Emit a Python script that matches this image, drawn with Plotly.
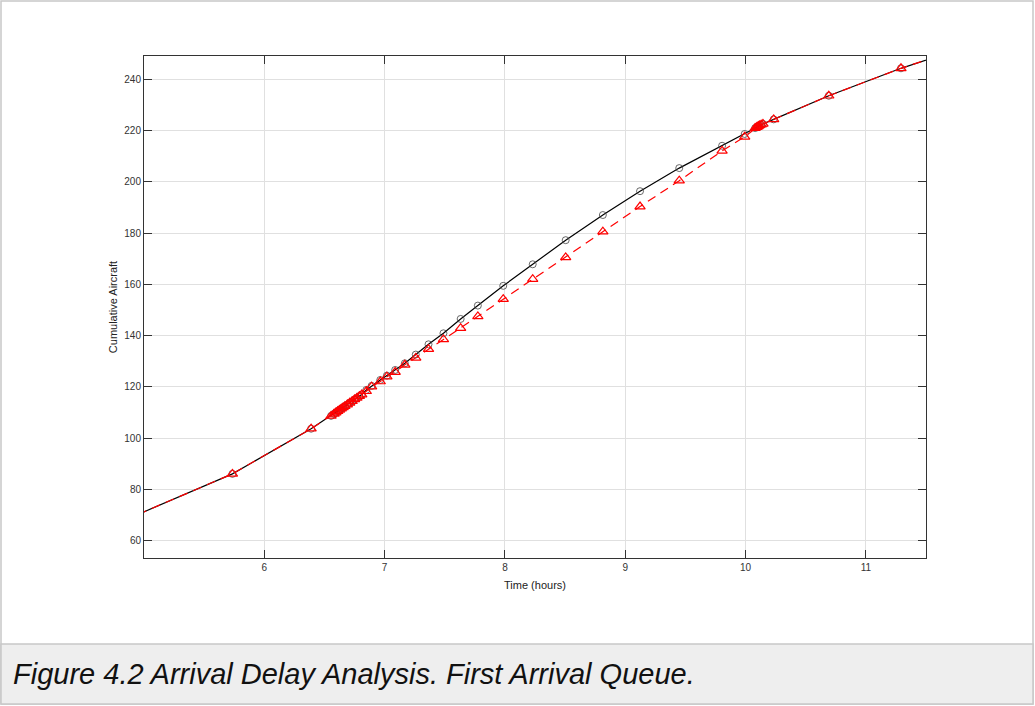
import plotly.graph_objects as go

# Time (hours) of each arrival event
time_h = [4.95, 5.735, 6.389, 6.555,
          6.58, 6.595, 6.61, 6.625, 6.64, 6.655, 6.67, 6.69, 6.71, 6.73, 6.75, 6.77, 6.79, 6.81,
          6.848, 6.892, 6.964, 7.019, 7.088, 7.168, 7.259, 7.365, 7.489, 7.632, 7.775,
          7.986, 8.231, 8.505, 8.814, 9.123, 9.449, 9.805, 9.993,
          10.08, 10.095, 10.105, 10.115, 10.13, 10.145,
          10.234, 10.692, 11.292, 11.55]

# Cumulative aircraft - scheduled (black, circles)
sched = [70.3, 86.1, 103.7, 108.7,
         109.5, 110.0, 110.5, 111.0, 111.5, 112.0, 112.5, 113.1, 113.8, 114.4, 115.1, 115.7, 116.4, 117.0,
         118.8, 120.4, 122.7, 124.4, 126.6, 129.2, 132.6, 136.6, 140.9, 146.5, 151.7,
         159.4, 167.8, 177.2, 187.0, 196.3, 205.3, 214.0, 218.6,
         220.9, 221.3, 221.6, 221.9, 222.2, 222.5,
         224.3, 233.5, 244.2, 248.2]

# Cumulative aircraft - actual (red dashed, triangles)
actual = [70.3, 86.1, 103.7, 108.7,
          109.5, 110.0, 110.5, 111.0, 111.5, 112.0, 112.5, 113.1, 113.8, 114.4, 115.1, 115.7, 116.4, 117.0,
          118.3, 120.1, 122.1, 124.0, 125.8, 128.6, 131.3, 134.7, 138.5, 142.9, 147.5,
          154.2, 162.0, 170.5, 180.5, 190.3, 200.4, 212.0, 217.5,
          220.9, 221.3, 221.6, 221.9, 222.2, 222.5,
          224.3, 233.5, 244.2, 248.2]

x_ticks = [6, 7, 8, 9, 10, 11]
y_ticks = [60, 80, 100, 120, 140, 160, 180, 200, 220, 240]
caption = "Figure 4.2 Arrival Delay Analysis. First Arrival Queue."

FONT = "Liberation Sans, Arial, sans-serif"

fig = go.Figure()
fig.add_trace(go.Scatter(
    x=time_h, y=sched, mode="lines+markers",
    line=dict(color="black", width=1.2),
    marker=dict(symbol="circle-open", size=7, color="#444444", line=dict(width=0.8)),
    showlegend=False))
fig.add_trace(go.Scatter(
    x=time_h, y=actual, mode="lines+markers",
    line=dict(color="#ff0000", width=1.2, dash="9px,6px"),
    marker=dict(symbol="triangle-up-open", size=9, color="#ff0000", line=dict(width=1.2)),
    showlegend=False))

W, H = 1035, 706
L, R, T, B = 144, 926, 56, 558
pw, ph = R - L, B - T

def px(xp):
    return (xp - L) / pw

def py(yp):
    return (B - yp) / ph

axis_common = dict(
    showgrid=True, gridcolor="#e0e0e0", gridwidth=1,
    showline=True, linecolor="#333333", linewidth=1, mirror="ticks",
    ticks="inside", ticklen=8, tickcolor="#333333", tickwidth=1,
    zeroline=False,
    tickfont=dict(family=FONT, size=10, color="#333333"),
)

fig.update_layout(
    width=W, height=H,
    margin=dict(l=L, r=W - R, t=T, b=H - B),
    paper_bgcolor="white", plot_bgcolor="white",
    xaxis=dict(range=[5.0, 11.5], tickvals=x_ticks,
               title=dict(text="Time (hours)", standoff=9,
                          font=dict(family=FONT, size=11, color="#222222")),
               **axis_common),
    yaxis=dict(range=[53.3, 249.0], tickvals=y_ticks,
               title=dict(text="Cumulative Aircraft", standoff=4,
                          font=dict(family=FONT, size=11, color="#222222")),
               **axis_common),
    shapes=[
        dict(type="rect", xref="paper", yref="paper",
             x0=px(1), x1=px(1033), y0=py(704), y1=py(1),
             line=dict(color="#c8c8c8", width=1.5), fillcolor="rgba(0,0,0,0)", layer="below"),
        dict(type="rect", xref="paper", yref="paper",
             x0=px(1), x1=px(1033), y0=py(704), y1=py(644),
             line=dict(color="#c8c8c8", width=1.5), fillcolor="#eeeeee", layer="below"),
    ],
    annotations=[
        dict(text=caption, xref="paper", yref="paper",
             x=px(11), y=py(674), xanchor="left", yanchor="middle", showarrow=False,
             font=dict(family=FONT, size=29, color="#111111", style="italic"))
    ],
)

fig.write_html("out.html")
